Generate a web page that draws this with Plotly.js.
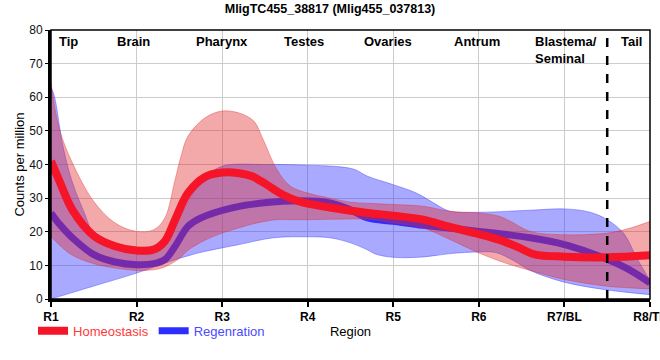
<!DOCTYPE html>
<html>
<head>
<meta charset="utf-8">
<script src="https://cdn.plot.ly/plotly-3.0.1.min.js"></script>
<style>html,body{margin:0;padding:0;background:#fff;}#chart{width:660px;height:360px;}</style>
</head>
<body>
<div id="chart"></div>
<script>
// Region ticks
const tickVals = [1, 2, 3, 4, 5, 6, 7, 8];
const tickText = ['R1', 'R2', 'R3', 'R4', 'R5', 'R6', 'R7/BL', 'R8/TL'];

// Region names at top
const regionNames = ['Tip', 'Brain', 'Pharynx', 'Testes', 'Ovaries', 'Antrum', 'Blastema/<br>Seminal', 'Tail'];
const regionPos = [1.21, 1.96, 3.0, 3.96, 4.94, 5.98, 7.02, 7.78];

// Homeostasis mean
const homX = [1, 1.1, 1.25, 1.5, 1.75, 2, 2.2, 2.33, 2.45, 2.6, 2.8, 3, 3.2, 3.35, 3.52, 3.71, 3.9, 4.26, 4.7, 5, 5.35, 5.65, 6, 6.25, 6.45, 6.65, 7, 7.5, 8];
const homY = [41, 35, 26.5, 18.8, 15.7, 14.4, 14.7, 17.2, 23.6, 31.5, 36.3, 37.6, 37.4, 36.5, 34, 31, 29, 27.2, 25.6, 24.8, 23.6, 21.5, 19.3, 17.5, 15.5, 13.3, 12.6, 12.4, 13];

// Homeostasis band
const homBandX = [1, 1.1, 1.25, 1.5, 1.75, 2, 2.2, 2.33, 2.45, 2.52, 2.6, 2.8, 3, 3.2, 3.37, 3.48, 3.64, 3.8, 4, 4.26, 4.5, 4.77, 5, 5.35, 5.66, 6, 6.24, 6.37, 6.6, 7, 7.5, 7.77, 8];
const homUpper = [64.3, 50.4, 40.5, 29, 22.6, 20.1, 20.6, 24.1, 35.5, 42.5, 48.4, 53.9, 55.9, 55.3, 52.9, 47.4, 38.5, 33.5, 31.5, 30, 28.8, 28.4, 28.1, 27.6, 26.1, 25.6, 24.6, 23.1, 20.1, 19.1, 19.6, 21.1, 23.1];
const homLower = [18.6, 16, 13, 10.5, 9.2, 8.5, 8.7, 9.5, 11.2, 12.5, 14.5, 17.5, 19.6, 21.2, 22.4, 23, 23.6, 23.6, 23.6, 23.7, 23.8, 23.6, 22.6, 21.1, 17.7, 13.7, 11.3, 10.2, 8.5, 5.8, 3.8, 3.3, 3];

// Regeneration mean
const regX = [1, 1.1, 1.25, 1.5, 1.75, 2, 2.2, 2.33, 2.45, 2.6, 2.74, 3.13, 3.52, 3.9, 4.26, 4.5, 4.7, 5, 5.35, 5.65, 6, 6.25, 6.6, 7, 7.25, 7.5, 7.75, 8];
const regY = [25.6, 22.2, 18.2, 13.2, 11, 10.2, 10.5, 11.7, 15.7, 21.6, 24, 27.2, 28.7, 29.2, 28.6, 26.5, 24.1, 23.1, 21.9, 21.1, 20.1, 19.4, 18.2, 16.2, 14.2, 11.8, 8.8, 4.8];

// Regeneration band
const regBandX = [1, 1.04, 1.14, 1.24, 1.39, 1.5, 1.75, 2, 2.2, 2.35, 2.5, 2.65, 2.8, 3, 3.5, 4, 4.38, 4.55, 4.7, 5, 5.27, 5.47, 5.66, 6, 6.6, 7, 7.3, 7.5, 7.69, 7.85, 8];
const regUpper = [63, 60.3, 45.4, 35.5, 25.6, 19.5, 15.5, 14.5, 14.8, 17, 24, 31, 36, 39.5, 40, 39.8, 39.3, 38.5, 36.5, 34, 31.5, 28.6, 26.1, 25.8, 26.4, 26.8, 25.8, 23.6, 19.6, 12, 5.5];
const regLowX = [1, 1.5, 2, 2.43, 2.74, 3, 3.2, 3.6, 4, 4.26, 4.5, 4.69, 4.8, 5, 5.35, 5.66, 6, 6.2, 6.4, 6.6, 7, 7.5, 8];
const regLower = [0, 3.85, 7.7, 11.5, 13.8, 15.2, 16.2, 18.2, 18.5, 18.2, 16.7, 14.7, 13.3, 12.4, 12.5, 13.5, 14, 13.8, 11.5, 8.5, 5, 2.7, 1.3];

const blueBand = 'rgba(51,51,255,0.42)';
const redBand = 'rgba(225,40,40,0.4)';
const blueLine = 'rgb(45,45,255)';
const redLine = 'rgb(245,20,40)';

const traces = [
  {x: regLowX, y: regLower, type: 'scatter', mode: 'lines', line: {shape: 'spline', width: 0.8, color: 'rgba(51,51,255,0.5)'}, showlegend: false, hoverinfo: 'skip'},
  {x: regBandX, y: regUpper, type: 'scatter', mode: 'lines', fill: 'tonexty', fillcolor: blueBand, line: {shape: 'spline', width: 0.8, color: 'rgba(51,51,255,0.5)'}, showlegend: false, hoverinfo: 'skip'},
  {x: regX, y: regY, type: 'scatter', mode: 'lines', name: '<span style="color:#4a4aff">Regenration</span>', line: {shape: 'spline', width: 7, color: blueLine}},
  {x: homBandX, y: homLower, type: 'scatter', mode: 'lines', line: {shape: 'spline', width: 0.8, color: 'rgba(225,40,40,0.45)'}, showlegend: false, hoverinfo: 'skip'},
  {x: homBandX, y: homUpper, type: 'scatter', mode: 'lines', fill: 'tonexty', fillcolor: redBand, line: {shape: 'spline', width: 0.8, color: 'rgba(225,40,40,0.45)'}, showlegend: false, hoverinfo: 'skip'},
  {x: homX, y: homY, type: 'scatter', mode: 'lines', name: '<span style="color:#ff3a3a">Homeostasis</span>', line: {shape: 'spline', width: 8, color: redLine}}
];

const annotations = regionNames.map((t, i) => ({
  text: t, x: regionPos[i], xref: 'x', y: 1, yref: 'paper', yanchor: 'top', yshift: -2,
  showarrow: false, align: 'left',
  font: {family: 'Liberation Sans, Arial, sans-serif', size: 13, color: '#000', weight: 'bold'}
}));

const layout = {
  width: 660, height: 360,
  margin: {l: 51, r: 10, t: 30, b: 61},
  paper_bgcolor: '#fff', plot_bgcolor: '#fff',
  font: {family: 'Liberation Sans, Arial, sans-serif', size: 12, color: '#000'},
  title: {text: '<b>MligTC455_38817 (Mlig455_037813)</b>', x: 0.5, xref: 'container', y: 0.976, yref: 'container', yanchor: 'middle',
          font: {family: 'Liberation Sans, Arial, sans-serif', size: 12.5, color: '#000'}},
  xaxis: {
    range: [1, 8], tickvals: tickVals, ticktext: tickText, ticklabeloverflow: 'allow',
    showgrid: true, gridcolor: '#cccccc', gridwidth: 1, zeroline: false,
    showline: true, linecolor: '#000', linewidth: 3,
    ticks: 'outside', ticklen: 5, tickwidth: 2, tickcolor: '#000',
    tickfont: {family: 'Liberation Sans, Arial, sans-serif', size: 12, color: '#000', weight: 'bold'},
    title: {text: 'Region', font: {size: 13, color: '#000'}, standoff: 4}
  },
  yaxis: {
    range: [0, 80], dtick: 10,
    showgrid: true, gridcolor: '#cccccc', gridwidth: 1, zeroline: false,
    showline: true, linecolor: '#000', linewidth: 3,
    ticks: 'outside', ticklen: 3, tickwidth: 1, tickcolor: '#000',
    tickfont: {size: 12, color: '#111'},
    title: {text: 'Counts per million', font: {size: 13, color: '#000'}, standoff: 2}
  },
  legend: {orientation: 'h', x: -0.03, xanchor: 'left', y: -0.118, yanchor: 'middle', traceorder: 'reversed',
           font: {size: 13}, bgcolor: 'rgba(0,0,0,0)', itemwidth: 30},
  shapes: [
    {type: 'line', xref: 'x', yref: 'paper', x0: 7.5, x1: 7.5, y0: 0, y1: 1, line: {color: '#000', width: 2.5, dash: 'dash'}},
    {type: 'rect', xref: 'paper', yref: 'paper', x0: 0, x1: 1, y0: 0, y1: 1, line: {color: '#000', width: 1.5}}
  ],
  annotations: annotations,
  showlegend: true
};

Plotly.newPlot('chart', traces, layout, {displayModeBar: false, staticPlot: true});
</script>
</body>
</html>
